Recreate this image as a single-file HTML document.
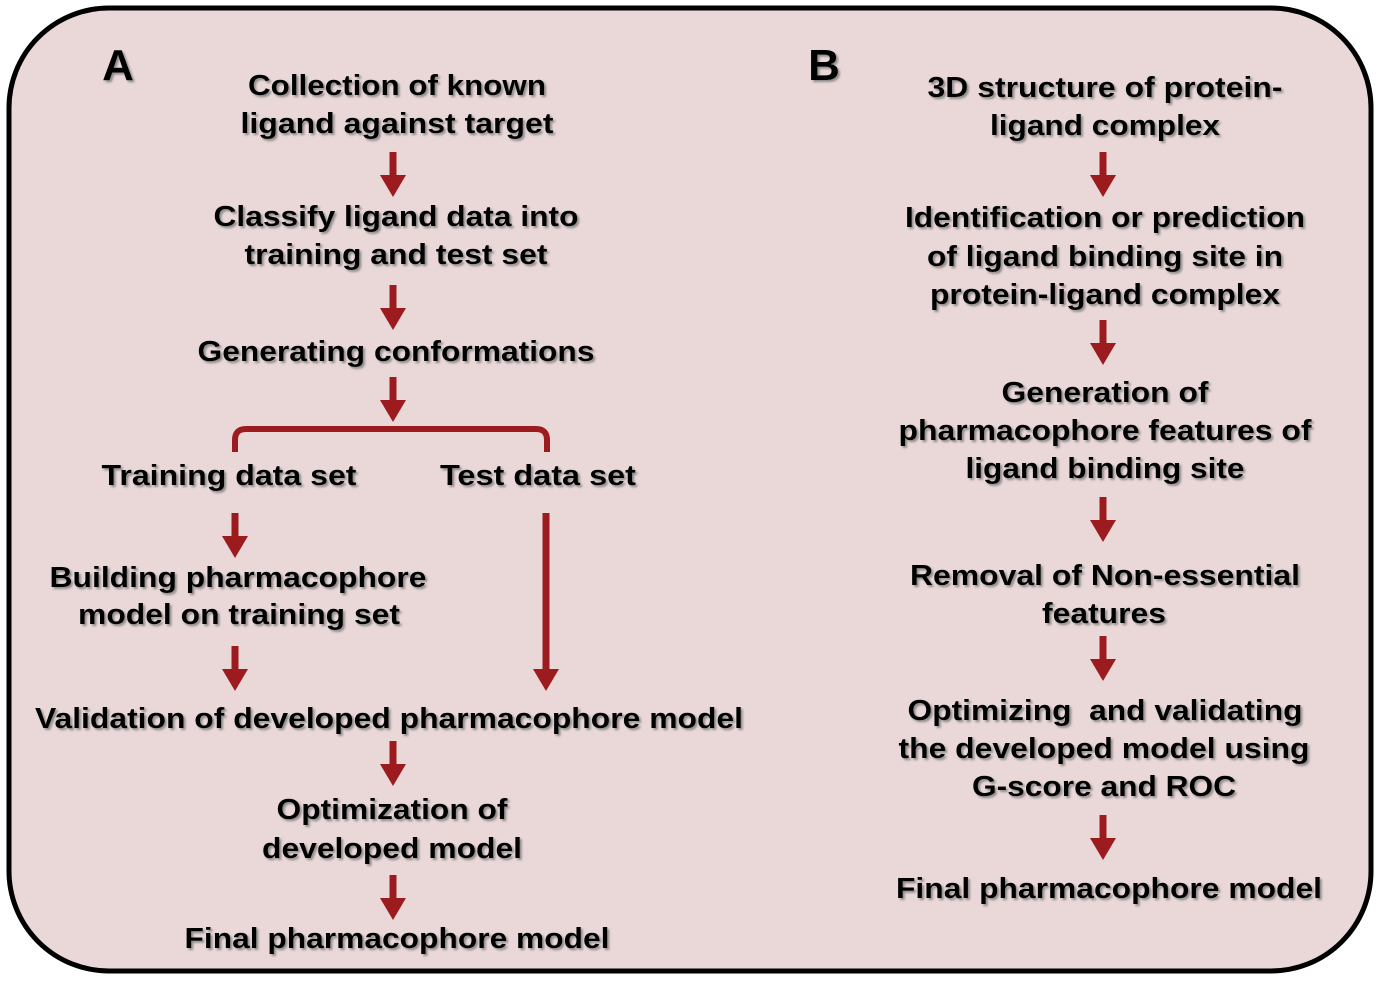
<!DOCTYPE html>
<html><head><meta charset="utf-8"><style>
html,body{margin:0;padding:0;background:#fff;}
svg{display:block;}
text{font-family:"Liberation Sans",Arial,sans-serif;font-weight:bold;font-size:29px;fill:#000;text-anchor:middle;filter:url(#sh);}
</style></head><body>
<svg width="1380" height="982" viewBox="0 0 1380 982" xmlns="http://www.w3.org/2000/svg">
<defs>
<filter id="sh" x="-5%" y="-30%" width="110%" height="160%"><feDropShadow dx="2" dy="2" stdDeviation="1" flood-color="#777" flood-opacity="0.8"/></filter>
<g id="ar"><rect x="-3.5" y="0" width="7" height="24" fill="#9b1b1f"/><polygon points="-13,23 13,23 0,45" fill="#9b1b1f"/></g>
</defs>
<rect x="9" y="8" width="1362" height="963" rx="100" ry="100" fill="#ead8d8" stroke="#000" stroke-width="5"/>
<text x="118" y="80" style="font-size:44px">A</text>
<text x="824" y="80" style="font-size:44px">B</text>

<text x="397" y="95" textLength="298" lengthAdjust="spacingAndGlyphs">Collection of known</text>
<text x="397" y="133" textLength="313" lengthAdjust="spacingAndGlyphs">ligand against target</text>
<use href="#ar" x="393" y="152"/>
<text x="396" y="226" textLength="365" lengthAdjust="spacingAndGlyphs">Classify ligand data into</text>
<text x="396" y="264" textLength="303" lengthAdjust="spacingAndGlyphs">training and test set</text>
<use href="#ar" x="393" y="285"/>
<text x="396" y="361" textLength="397" lengthAdjust="spacingAndGlyphs">Generating conformations</text>
<use href="#ar" x="393" y="377"/>
<path d="M235,452 V440 Q235,429 246,429 H536 Q547,429 547,440 V452" fill="none" stroke="#9b1b1f" stroke-width="6"/>
<text x="229" y="485" textLength="255" lengthAdjust="spacingAndGlyphs">Training data set</text>
<text x="538" y="485" textLength="196" lengthAdjust="spacingAndGlyphs">Test data set</text>
<use href="#ar" x="235" y="513"/>
<rect x="542.5" y="513" width="7" height="160" fill="#9b1b1f"/><polygon points="533,669 559,669 546,691" fill="#9b1b1f"/>
<text x="238" y="587" textLength="377" lengthAdjust="spacingAndGlyphs">Building pharmacophore</text>
<text x="239" y="624" textLength="322" lengthAdjust="spacingAndGlyphs">model on training set</text>
<use href="#ar" x="235" y="646"/>
<text x="389" y="728" textLength="708" lengthAdjust="spacingAndGlyphs">Validation of developed pharmacophore model</text>
<use href="#ar" x="393" y="741"/>
<text x="392" y="819" textLength="231" lengthAdjust="spacingAndGlyphs">Optimization of</text>
<text x="392" y="858" textLength="260" lengthAdjust="spacingAndGlyphs">developed model</text>
<use href="#ar" x="393" y="875"/>
<text x="397" y="948" textLength="425" lengthAdjust="spacingAndGlyphs">Final pharmacophore model</text>

<text x="1105" y="97" textLength="355" lengthAdjust="spacingAndGlyphs">3D structure of protein-</text>
<text x="1105" y="135" textLength="230" lengthAdjust="spacingAndGlyphs">ligand complex</text>
<use href="#ar" x="1103" y="152"/>
<text x="1105" y="227" textLength="400" lengthAdjust="spacingAndGlyphs">Identification or prediction</text>
<text x="1105" y="266" textLength="356" lengthAdjust="spacingAndGlyphs">of ligand binding site in</text>
<text x="1105" y="304" textLength="350" lengthAdjust="spacingAndGlyphs">protein-ligand complex</text>
<use href="#ar" x="1103" y="320"/>
<text x="1105" y="402" textLength="207" lengthAdjust="spacingAndGlyphs">Generation of</text>
<text x="1105" y="440" textLength="413" lengthAdjust="spacingAndGlyphs">pharmacophore features of</text>
<text x="1105" y="478" textLength="279" lengthAdjust="spacingAndGlyphs">ligand binding site</text>
<use href="#ar" x="1103" y="497"/>
<text x="1105" y="585" textLength="390" lengthAdjust="spacingAndGlyphs">Removal of Non-essential</text>
<text x="1104" y="623" textLength="124" lengthAdjust="spacingAndGlyphs">features</text>
<use href="#ar" x="1103" y="636"/>
<text x="1105" y="720" textLength="395" lengthAdjust="spacingAndGlyphs">Optimizing &#160;and validating</text>
<text x="1104" y="758" textLength="411" lengthAdjust="spacingAndGlyphs">the developed model using</text>
<text x="1104" y="796" textLength="264" lengthAdjust="spacingAndGlyphs">G-score and ROC</text>
<use href="#ar" x="1103" y="815"/>
<text x="1109" y="898" textLength="426" lengthAdjust="spacingAndGlyphs">Final pharmacophore model</text>
</svg>
</body></html>
